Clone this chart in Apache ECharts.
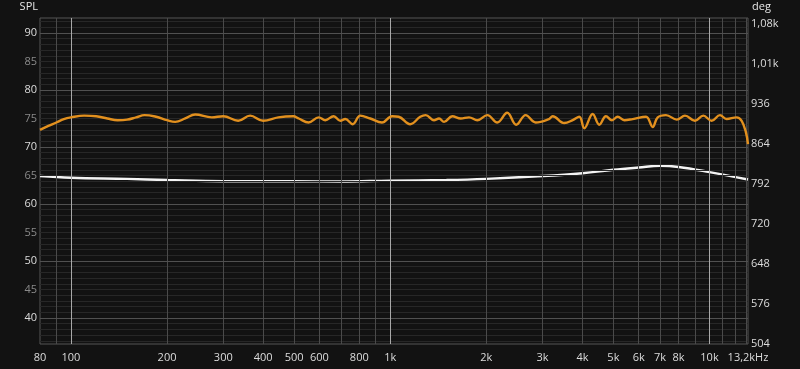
<!DOCTYPE html>
<html><head><meta charset="utf-8">
<script src="https://cdn.jsdelivr.net/npm/echarts@6/dist/echarts.min.js"></script>
<style>html,body{margin:0;padding:0;background:#121212;}#c{width:800px;height:369px;}</style>
</head><body><div id="c"></div>
<script>
// SPL (orange) trace, frequency in Hz and level in dB
const freqOrange = [80,85,90,95,100,110,120,130,140,150,160,170,185,200,212,228,245,276,300,334,364,400,446,497,517,555,597,626,665,698,723,763,806,866,942,1013,1063,1155,1242,1291,1371,1422,1474,1565,1662,1765,1874,2014,2164,2325,2481,2656,2855,3142,3227,3508,3728,3910,4054,4306,4517,4740,4950,5158,5408,5746,6326,6638,6882,7306,7900,8380,9006,9563,10155,10785,11313,12160,12610,13000,13200];
const splOrange = [73.0,73.7,74.3,74.9,75.2,75.5,75.4,75.0,74.7,74.8,75.2,75.6,75.3,74.7,74.4,75.0,75.7,75.2,75.4,74.6,75.5,74.6,75.2,75.4,75.0,74.3,75.2,74.7,75.4,74.6,74.9,74.0,75.5,75.0,74.3,75.4,75.3,74.0,75.3,75.6,74.7,75.0,74.4,75.4,75.0,75.2,74.7,75.6,74.3,76.0,73.9,75.6,74.3,74.9,75.4,74.2,74.7,75.3,73.3,75.8,73.9,75.4,74.7,75.3,74.7,74.9,75.3,73.5,75.2,75.6,74.8,75.5,74.6,75.5,74.6,75.6,74.9,75.2,74.6,72.6,70.5];
// white trace
const freqWhite = [80,100,150,200,300,500,700,1000,1500,2000,3000,4000,5000,6000,7000,8000,10000,13200];
const splWhite = [64.9,64.6,64.4,64.2,64.0,64.0,63.95,64.1,64.2,64.4,64.9,65.4,66.0,66.4,66.7,66.5,65.6,64.3];
// axis labels
const xLabelValues = [80,100,200,300,400,500,600,800,1000,2000,3000,4000,5000,6000,7000,8000,10000,13200];
const xLabelTexts = ['80','100','200','300','400','500','600','800','1k','2k','3k','4k','5k','6k','7k','8k','10k','13,2kHz'];
const leftLabelValues = [40,45,50,55,60,65,70,75,80,85,90];
const rightLabelValues = [504,576,648,720,792,864,936,1008,1080];
const rightLabelTexts = ['504','576','648','720','792','864','936','1,01k','1,08k'];
// grid line positions
const xMinorGrid = [90,200,300,400,500,600,700,800,900,2000,3000,4000,5000,6000,7000,8000,9000,11000,12000,13000];
const xMajorGrid = [100,1000,10000];
const yMajorGrid = [40,50,60,70,80,90];
const yMinorGrid = [];
for (let v = 36; v <= 92; v++) if (v % 10 !== 0) yMinorGrid.push(v);

const FONT = 'Open Sans';
const chart = echarts.init(document.getElementById('c'), null, {renderer: 'canvas'});

function pairs(xs, ys) { return xs.map((x, i) => [x, ys[i]]); }

const gridLines = [];
yMinorGrid.forEach(v => gridLines.push({yAxis: v, lineStyle: {color: '#272727', width: 1, type: 'solid'}}));
xMinorGrid.forEach(v => gridLines.push({xAxis: v, lineStyle: {color: '#4a4a4a', width: 1, type: 'solid'}}));
yMajorGrid.forEach(v => gridLines.push({yAxis: v, lineStyle: {color: '#505050', width: 1, type: 'solid'}}));
xMajorGrid.forEach(v => gridLines.push({xAxis: v, lineStyle: {color: '#a8a8a8', width: 1, type: 'solid'}}));

chart.setOption({
  animation: false,
  backgroundColor: '#121212',
  grid: {left: 40, right: 52, top: 18, bottom: 25, show: true, borderColor: '#555', borderWidth: 1, backgroundColor: '#121212'},
  xAxis: {
    type: 'log', logBase: 10, min: 80, max: 13200,
    axisLine: {show: false}, axisTick: {show: false}, splitLine: {show: false},
    axisLabel: {
      customValues: xLabelValues, margin: 8,
      color: '#dcdcdc', fontFamily: FONT, fontSize: 11,
      formatter: (v) => { const i = xLabelValues.findIndex(x => Math.abs(x - v) < 0.5); return i >= 0 ? xLabelTexts[i] : ''; }
    }
  },
  yAxis: [{
    type: 'value', position: 'left', min: 35.44, max: 92.63,
    name: 'SPL', nameLocation: 'end', nameGap: 6,
    nameTextStyle: {color: '#e6e6e6', fontFamily: FONT, fontSize: 11, align: 'right', padding: [0, 2, 0, 0]},
    axisLine: {show: false}, axisTick: {show: false}, splitLine: {show: false},
    axisLabel: {
      customValues: leftLabelValues, margin: 3, fontFamily: FONT, fontSize: 11,
      color: (v) => (Number(v) % 10 === 0 ? '#dcdcdc' : '#8a8a8a'),
      formatter: (v) => String(Math.round(v))
    }
  }, {
    type: 'value', position: 'right', min: 504, max: 1090.8,
    name: 'deg', nameLocation: 'end', nameGap: 6,
    nameTextStyle: {color: '#e6e6e6', fontFamily: FONT, fontSize: 11, align: 'left', padding: [0, 0, 0, 4]},
    axisLine: {show: false}, axisTick: {show: false}, splitLine: {show: false},
    axisLabel: {
      customValues: rightLabelValues, margin: 3, fontFamily: FONT, fontSize: 11, color: '#dcdcdc',
      formatter: (v) => { const i = rightLabelValues.indexOf(Math.round(v)); return i >= 0 ? rightLabelTexts[i] : ''; }
    }
  }],
  series: [
    {type: 'line', data: [], z: 1, silent: true,
     markLine: {silent: true, symbol: ['none', 'none'], label: {show: false}, animation: false, data: gridLines}},
    {type: 'line', name: 'white', data: pairs(freqWhite, splWhite), smooth: 0.4, showSymbol: false, z: 4,
     lineStyle: {color: '#f4f4f4', width: 2.4}},
    {type: 'line', name: 'SPL', data: pairs(freqOrange, splOrange), smooth: 0.4, showSymbol: false, z: 5,
     lineStyle: {color: '#e2901e', width: 2.4}}
  ]
});
</script>
</body></html>
